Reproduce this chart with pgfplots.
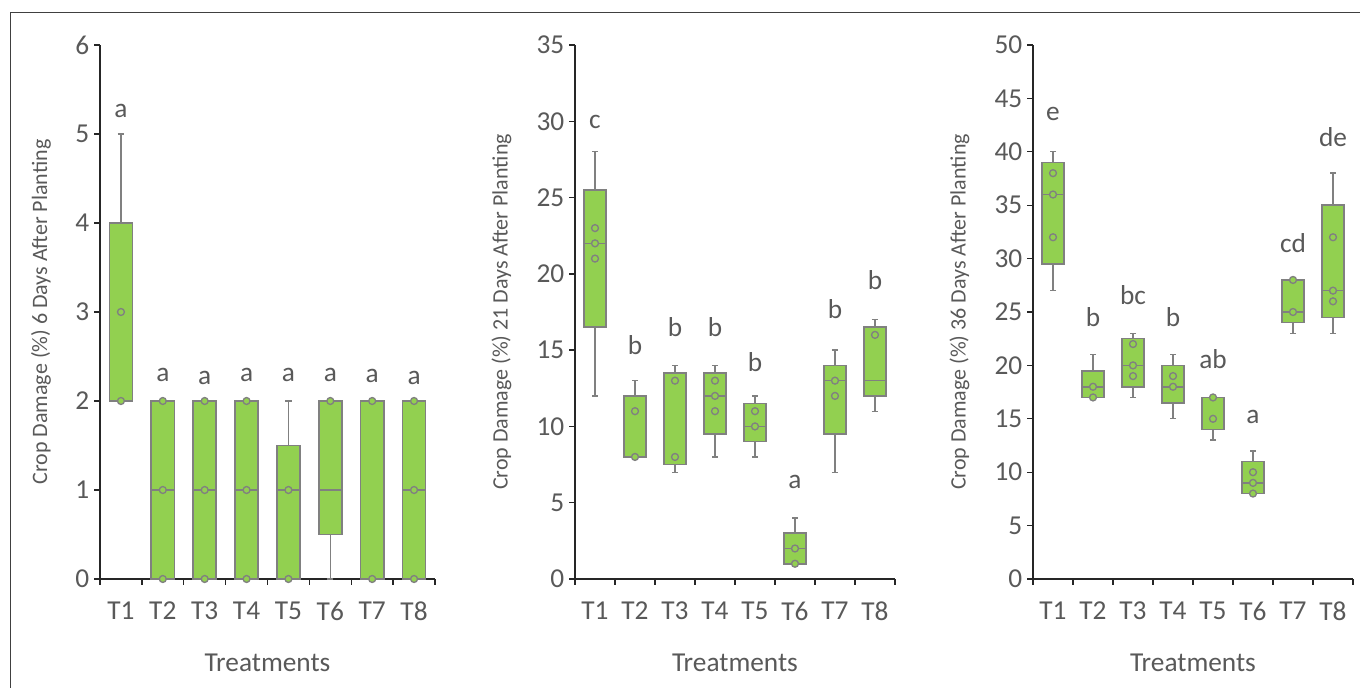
\documentclass[border=0pt]{standalone}
\usepackage{fontspec}
\setmainfont{Carlito}
\usepackage{pgfplots}
\pgfplotsset{compat=1.18}
\usepgfplotslibrary{statistics}
\definecolor{boxgreen}{HTML}{92D050}
\definecolor{boxgray}{HTML}{808080}
\definecolor{txtgray}{HTML}{595959}
\definecolor{axgray}{HTML}{262626}

\tikzset{letter/.style={font=\fontsize{20.5}{24}\selectfont, text=txtgray, anchor=base, inner sep=0pt}}
\pgfplotsset{
  panel/.style={
    scale only axis, height=400.5pt,
    xmin=0.5, xmax=8.5, ymin=0,
    axis lines*=left,
    axis line style={axgray, line width=1.2pt},
    xtick={1,...,8}, xticklabels={T1,T2,T3,T4,T5,T6,T7,T8},
    minor xtick={0.5,1.5,...,8.5},
    major x tick style={draw=none},
    tick align=outside,
    major tick length=4.5pt, minor tick length=4.5pt,
    tick style={axgray, line width=1pt},
    ticklabel style={font=\fontsize{20.5}{24}\selectfont, text=txtgray},
    xticklabel style={yshift=-9pt},
    /pgf/number format/assume math mode=true,
    xlabel={Treatments},
    xlabel style={font=\fontsize{20.5}{24}\selectfont, text=txtgray,
      at={(axis description cs:0.5,-0.157)}, anchor=center},
    ylabel style={font=\fontsize{16.5}{19}\selectfont, text=txtgray, anchor=center},
    boxplot/draw direction=y,
    boxplot/box extend=0.55,
    boxplot/whisker extend=0.15,
    boxplot/every median/.style={draw=boxgray, line width=1.2pt},
    boxplot/every whisker/.style={draw=boxgray, line width=1pt},
    clip=false,
  },
  pts/.style={only marks, mark=*, mark size=2.6pt,
    mark options={draw=boxgray, fill=boxgreen, line width=1pt}},
}
\newcommand{\bx}[6]{\addplot[draw=boxgray, fill=boxgreen, line width=1.2pt,
  boxplot prepared={draw position=#1, lower whisker=#2, lower quartile=#3,
  median=#4, upper quartile=#5, upper whisker=#6}] coordinates {};}
\newcommand{\lab}[3]{\node[letter] at (axis cs:#1,#2) {#3};}

\begin{document}
\begin{tikzpicture}
\useasboundingbox (0,0) rectangle (1020pt,516pt);
\draw[line width=0.75pt, black!75] (7.5pt,0) -- (7.5pt,506.25pt) -- (1020pt,506.25pt);

% Panel 1
\begin{axis}[panel, at={(75pt,81.75pt)}, anchor=south west, width=251.25pt,
  ymax=6, ytick={0,1,...,6},
  ylabel={Crop Damage (\%) 6 Days After Planting},
  ylabel style={at={(axis description cs:-0.176,0.5)}}]
\bx{1}{2}{2}{2}{4}{5}
\bx{2}{0}{0}{1}{2}{2}
\bx{3}{0}{0}{1}{2}{2}
\bx{4}{0}{0}{1}{2}{2}
\bx{5}{0}{0}{1}{1.5}{2}
\bx{6}{0}{0.5}{1}{2}{2}
\bx{7}{0}{0}{2}{2}{2}
\bx{8}{0}{0}{1}{2}{2}
\addplot[pts] coordinates {
 (1,2) (1,3)
 (2,0) (2,1) (2,2)
 (3,0) (3,1) (3,2)
 (4,0) (4,1) (4,2)
 (5,0) (5,1)
 (6,2)
 (7,0) (7,2)
 (8,0) (8,1) (8,2)};
\lab{1}{5.19}{a}
\lab{2}{2.22}{a}
\lab{3}{2.18}{a}
\lab{4}{2.22}{a}
\lab{5}{2.22}{a}
\lab{6}{2.22}{a}
\lab{7}{2.21}{a}
\lab{8}{2.19}{a}
\end{axis}

% Panel 2
\begin{axis}[panel, at={(431.25pt,81.75pt)}, anchor=south west, width=240pt,
  ymax=35, ytick={0,5,...,35},
  ylabel={Crop Damage (\%) 21 Days After Planting},
  ylabel style={at={(axis description cs:-0.23,0.5)}}]
\bx{1}{12}{16.5}{22}{25.5}{28}
\bx{2}{8}{8}{8}{12}{13}
\bx{3}{7}{7.5}{7.5}{13.5}{14}
\bx{4}{8}{9.5}{12}{13.5}{14}
\bx{5}{8}{9}{10}{11.5}{12}
\bx{6}{1}{1}{2}{3}{4}
\bx{7}{7}{9.5}{13}{14}{15}
\bx{8}{11}{12}{13}{16.5}{17}
\addplot[pts] coordinates {
 (1,21) (1,22) (1,23)
 (2,8) (2,11)
 (3,8) (3,13)
 (4,11) (4,12) (4,13)
 (5,10) (5,11)
 (6,1) (6,2)
 (7,12) (7,13)
 (8,16)};
\lab{1}{29.55}{c}
\lab{2}{14.7}{b}
\lab{3}{15.9}{b}
\lab{4}{15.9}{b}
\lab{5}{13.6}{b}
\lab{6}{5.96}{a}
\lab{7}{17.1}{b}
\lab{8}{19.0}{b}
\end{axis}

% Panel 3
\begin{axis}[panel, at={(774.75pt,81.75pt)}, anchor=south west, width=240pt,
  ymax=50, ytick={0,5,...,50},
  ylabel={Crop Damage (\%) 36 Days After Planting},
  ylabel style={at={(axis description cs:-0.23,0.5)}}]
\bx{1}{27}{29.5}{36}{39}{40}
\bx{2}{17}{17}{18}{19.5}{21}
\bx{3}{17}{18}{20}{22.5}{23}
\bx{4}{15}{16.5}{18}{20}{21}
\bx{5}{13}{14}{14}{17}{17}
\bx{6}{8}{8}{9}{11}{12}
\bx{7}{23}{24}{25}{28}{28}
\bx{8}{23}{24.5}{27}{35}{38}
\addplot[pts] coordinates {
 (1,32) (1,36) (1,38)
 (2,17) (2,18)
 (3,19) (3,20) (3,22)
 (4,18) (4,19)
 (5,15) (5,17)
 (6,8) (6,9) (6,10)
 (7,25) (7,28)
 (8,26) (8,27) (8,32)};
\lab{1}{42.9}{e}
\lab{2}{23.6}{b}
\lab{3}{25.7}{bc}
\lab{4}{23.6}{b}
\lab{5}{19.75}{ab}
\lab{6}{14.6}{a}
\lab{7}{30.6}{cd}
\lab{8}{40.5}{de}
\end{axis}
\end{tikzpicture}
\end{document}
